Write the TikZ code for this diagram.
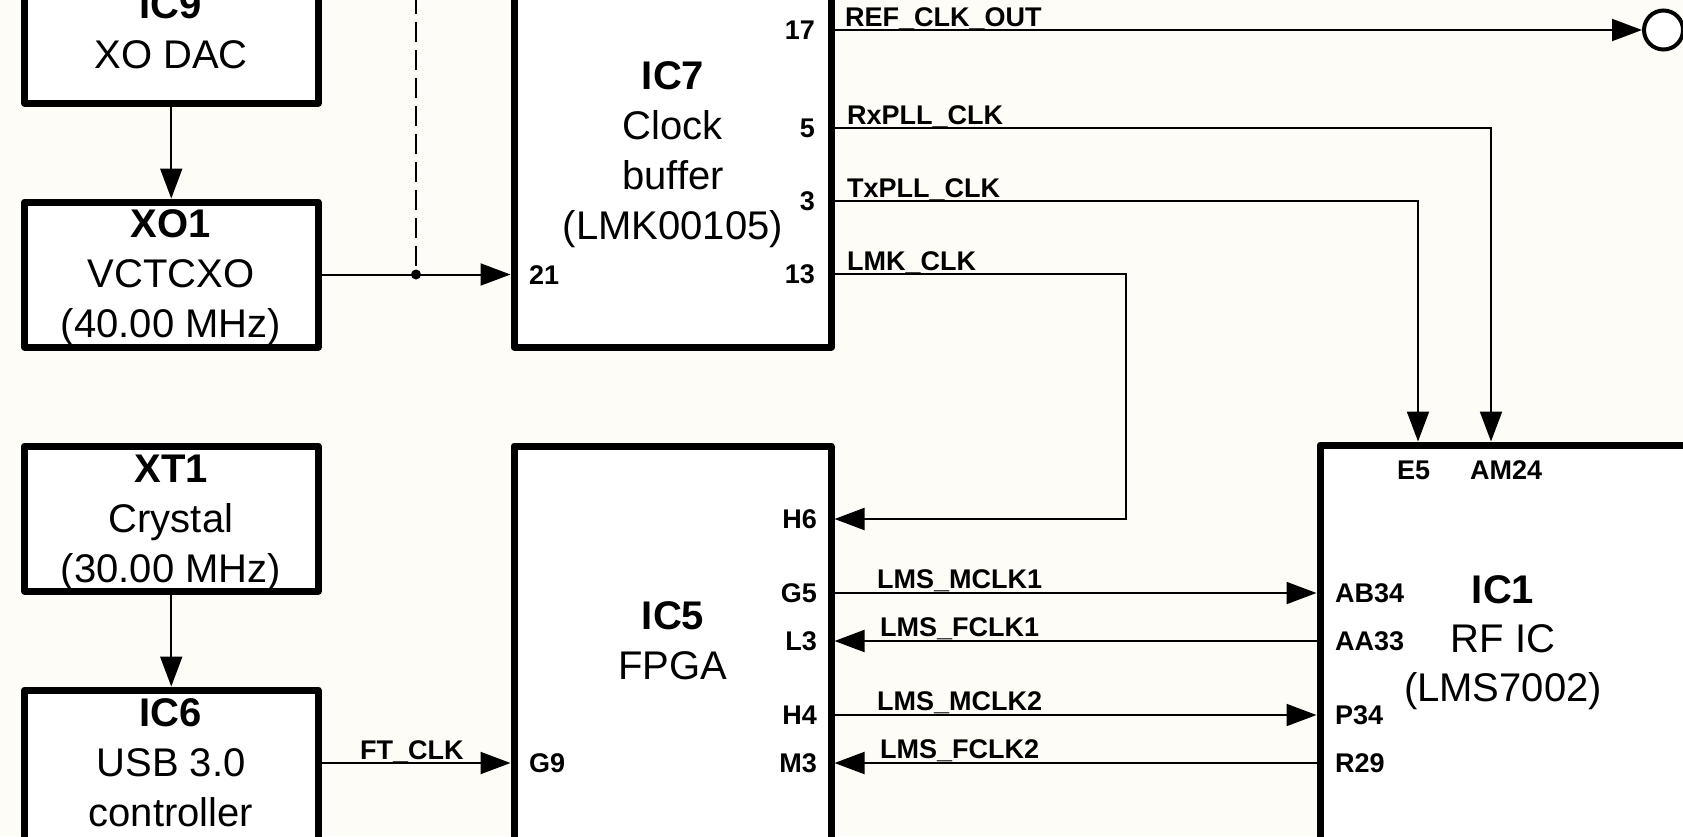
\documentclass[tikz,border=0pt]{standalone}
\usepackage{fontspec}
\setmainfont{Liberation Sans}
\usetikzlibrary{arrows.meta,calc}
\definecolor{bgc}{RGB}{253,252,246}
\tikzset{
  blk/.style={draw=black, fill=white, line width=7pt, line join=round, inner sep=0pt, rectangle},
  boxtext/.style={font=\fontsize{40}{50}\selectfont, align=center, inner sep=0pt, anchor=north},
  pinlab/.style={font=\bfseries\fontsize{27}{32}\selectfont, inner sep=0pt},
  netlab/.style={pinlab, anchor=base west},
  wire/.style={draw=black, line width=2pt},
  arr/.style={wire, -{Triangle[length=30pt,width=22pt]}},
}
\begin{document}
\begin{tikzpicture}[x=1pt,y=-1pt]
\useasboundingbox (0,0) rectangle (1683,836);
\fill[bgc] (0,0) rectangle (1683,836);
\clip (0,0) rectangle (1683,836);

% blocks
\node[blk, minimum width=293.5pt, minimum height=163pt] (ic9) at (171.25,21.5) {};
\node[blk, minimum width=293.5pt, minimum height=145pt] (xo1) at (171.25,274.5) {};
\node[blk, minimum width=293.5pt, minimum height=145pt] (xt1) at (171.25,518.5) {};
\node[blk, minimum width=293.5pt, minimum height=210pt] (ic6) at (171.25,795) {};
\node[blk, minimum width=317.5pt, minimum height=407pt] (ic7) at (672.75,143.5) {};
\node[blk, minimum width=317pt, minimum height=454pt] (ic5) at (672.5,673) {};
\node[blk, minimum width=430pt, minimum height=455pt] (ic1) at (1535,672.5) {};
\node[circle, draw=black, line width=4pt, fill=white, minimum size=39pt, inner sep=0pt] (out) at (1663.5,30) {};

% block texts
\node[boxtext] (t9) at (171,-17) {\strut\textbf{IC9}\\\strut XO DAC};
\node[boxtext] (txo1) at (171,202) {\strut\textbf{XO1}\\\strut VCTCXO\\\strut (40.00 MHz)};
\node[boxtext] (txt1) at (171,447) {\strut\textbf{XT1}\\\strut Crystal\\\strut (30.00 MHz)};
\node[boxtext] (tic6) at (171,691) {\strut\textbf{IC6}\\\strut USB 3.0\\\strut controller};
\node[boxtext] (tic7) at (673,54) {\strut\textbf{IC7}\\\strut Clock\\\strut buffer\\\strut (LMK00105)};
\node[boxtext] (tic5) at (673,594) {\strut\textbf{IC5}\\\strut FPGA};
\node[boxtext, font=\fontsize{40}{49}\selectfont] (tic1) at (1503,569) {\strut\textbf{IC1}\\\strut RF IC\\\strut (LMS7002)};

% pin labels
\node[pinlab, anchor=base east] (l17) at (815,39.7) {17};
\node[pinlab, anchor=base east] (l5) at (815,137.7) {5};
\node[pinlab, anchor=base east] (l3) at (815,210.7) {3};
\node[pinlab, anchor=base east] (l13) at (815,283.7) {13};
\node[pinlab, anchor=base west] (l21) at (529,284.7) {21};
\node[pinlab, anchor=base east] (lh6) at (817,528.7) {H6};
\node[pinlab, anchor=base east] (lg5) at (817,602.7) {G5};
\node[pinlab, anchor=base east] (ll3) at (817,650.7) {L3};
\node[pinlab, anchor=base east] (lh4) at (817,724.7) {H4};
\node[pinlab, anchor=base east] (lm3) at (817,772.7) {M3};
\node[pinlab, anchor=base west] (lg9) at (529,772.7) {G9};
\node[pinlab, anchor=base west] (lab34) at (1335,602.7) {AB34};
\node[pinlab, anchor=base west] (laa33) at (1335,650.7) {AA33};
\node[pinlab, anchor=base west] (lp34) at (1335,724.7) {P34};
\node[pinlab, anchor=base west] (lr29) at (1335,772.7) {R29};
\node[pinlab, anchor=base west] (le5) at (1397,479) {E5};
\node[pinlab, anchor=base west] (lam24) at (1470,479) {AM24};

% net labels
\node[netlab] (nref) at (845,26.5) {REF\_CLK\_OUT};
\node[netlab] (nrx) at (847,124.5) {RxPLL\_CLK};
\node[netlab] (ntx) at (847,197.5) {TxPLL\_CLK};
\node[netlab] (nlmk) at (847,270.5) {LMK\_CLK};
\node[netlab] (nm1) at (877,588.5) {LMS\_MCLK1};
\node[netlab] (nf1) at (880,636.7) {LMS\_FCLK1};
\node[netlab] (nm2) at (877,710.5) {LMS\_MCLK2};
\node[netlab] (nf2) at (880,758.7) {LMS\_FCLK2};
\node[netlab] (nft) at (360,759) {FT\_CLK};

% pin coordinates
\coordinate (p17) at (ic7.east |- 0,30);
\coordinate (p5) at (ic7.east |- 0,128);
\coordinate (p3) at (ic7.east |- 0,201);
\coordinate (p13) at (ic7.east |- 0,274);
\coordinate (p21) at (ic7.west |- xo1.east);
\coordinate (e5) at ($(ic1.north west)+(101.5,0)$);
\coordinate (am24) at ($(ic1.north west)+(174.5,0)$);
\coordinate (h6) at (ic5.east |- 0,519);
\coordinate (g5) at (ic5.east |- 0,593);
\coordinate (l3) at (ic5.east |- 0,641);
\coordinate (h4) at (ic5.east |- 0,715);
\coordinate (m3) at (ic5.east |- 0,763);
\coordinate (g9) at (ic5.west |- 0,763);
\coordinate (ab34) at (ic1.west |- g5);
\coordinate (aa33) at (ic1.west |- l3);
\coordinate (p34) at (ic1.west |- h4);
\coordinate (r29) at (ic1.west |- m3);
\coordinate (jn) at ($(xo1.east)!0.5!(p21)$);
\coordinate (dtop) at (jn |- 0,-6);

% connectors
\draw[arr] (ic9.south) -- (xo1.north);
\draw[arr] (xt1.south) -- (ic6.north);
\draw[arr] (xo1.east) -- (p21);
\draw[wire, dash pattern=on 20pt off 8pt] (dtop) -- (jn);
\fill[black] (jn) circle[radius=5pt];
\draw[arr] (ic6.east |- g9) -- (g9);
\draw[arr] (p17) -- (out.west);
\draw[arr] (p5) -| (am24);
\draw[arr] (p3) -| (e5);
\draw[arr] (p13) -- ++(291,0) |- (h6);
\draw[arr] (g5) -- (ab34);
\draw[arr] (aa33) -- (l3);
\draw[arr] (h4) -- (p34);
\draw[arr] (r29) -- (m3);
\end{tikzpicture}
\end{document}
